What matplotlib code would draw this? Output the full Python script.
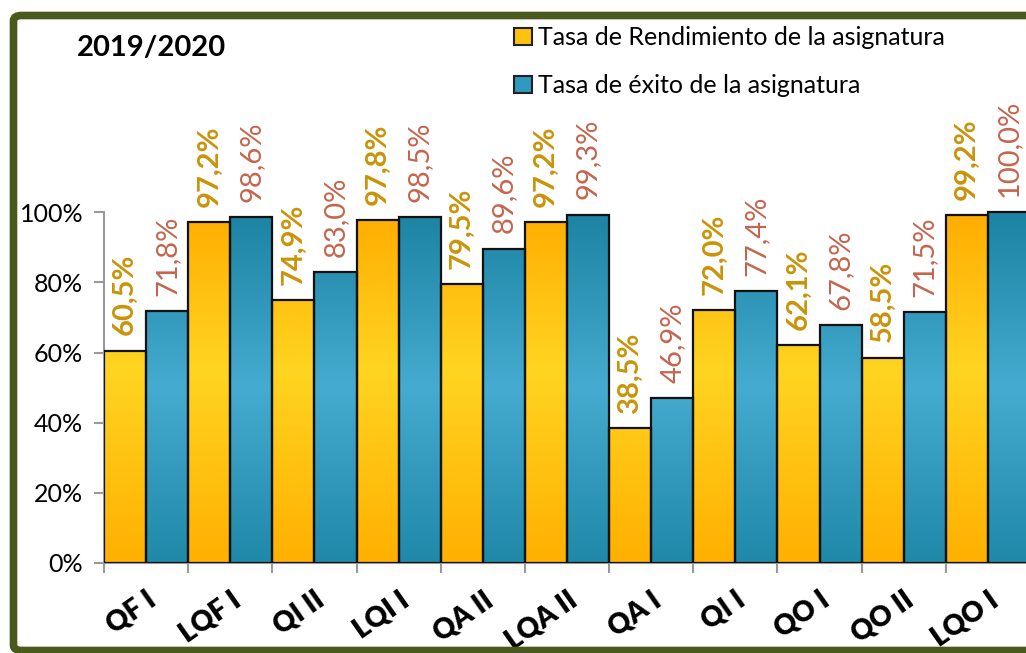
import matplotlib.pyplot as plt
import numpy as np
from matplotlib.colors import LinearSegmentedColormap
from matplotlib.patches import FancyBboxPatch, Patch

categories = ['QF I', 'LQF I', 'QI II', 'LQI I', 'QA II', 'LQA II',
              'QA I', 'QI I', 'QO I', 'QO II', 'LQO I']
rendimiento = [60.5, 97.2, 74.9, 97.8, 79.5, 97.2, 38.5, 72.0, 62.1, 58.5, 99.2]
exito = [71.8, 98.6, 83.0, 98.5, 89.6, 99.3, 46.9, 77.4, 67.8, 71.5, 100.0]
yticks = [0, 20, 40, 60, 80, 100]

plt.rcParams['font.family'] = ['Lato', 'DejaVu Sans']

W, H = 1026, 653
fig = plt.figure(figsize=(W / 100, H / 100), dpi=100)

# axes placed in pixel terms: x=0..11 spans 104..1030, y 0%..120% spans 563..142
ax = fig.add_axes([104 / W, (H - 563) / H, 926 / W, 421 / H])

x = np.arange(len(categories))
width = 0.5
bars_r = ax.bar(x - width / 2, rendimiento, width, color='#ffc20e',
                edgecolor='#111111', linewidth=1.6, zorder=2)
bars_e = ax.bar(x + width / 2, exito, width, color='#2f9abd',
                edgecolor='#111111', linewidth=1.6, zorder=2)

# gradient fills clipped to each bar
cmap_r = LinearSegmentedColormap.from_list('r', [(0, '#ffb000'), (0.55, '#ffd422'), (1, '#ffad00')])
cmap_e = LinearSegmentedColormap.from_list('e', [(0, '#2088a9'), (0.5, '#45abd0'), (1, '#1d83a3')])
grad = np.linspace(0, 1, 256).reshape(-1, 1)
for bars, cmap in ((bars_r, cmap_r), (bars_e, cmap_e)):
    for b in bars:
        x0 = b.get_x()
        im = ax.imshow(grad, cmap=cmap, origin='lower', aspect='auto',
                       extent=(x0, x0 + b.get_width(), 0, 100), zorder=2.5)
        im.set_clip_path(b)
        b.set_facecolor('none')
        b.set_zorder(3)

for b, v in zip(bars_r, rendimiento):
    ax.annotate(f'{v:.1f}%'.replace('.', ','), (b.get_x() + b.get_width() / 2, v),
                xytext=(0, 11), textcoords='offset points', rotation=90,
                ha='center', va='bottom', fontsize=21, fontweight='bold',
                color='#c99409', annotation_clip=False)
for b, v in zip(bars_e, exito):
    ax.annotate(f'{v:.1f}%'.replace('.', ','), (b.get_x() + b.get_width() / 2, v),
                xytext=(0, 11), textcoords='offset points', rotation=90,
                ha='center', va='bottom', fontsize=21,
                color='#c4654d', annotation_clip=False)

ax.set_xlim(-0.5, len(categories) - 0.5)
ax.set_ylim(0, 120)

ax.set_yticks(yticks)
ax.set_yticklabels([f'{t}%' for t in yticks], fontsize=18)
ax.set_xticks(np.arange(len(categories) + 1) - 0.5)
ax.set_xticklabels([])
ax.set_xticks(x, minor=True)
ax.set_xticklabels(categories, minor=True, rotation=35, ha='right',
                   rotation_mode='anchor', fontsize=20, fontweight='heavy')
ax.tick_params(axis='x', which='minor', length=0, pad=17)
ax.tick_params(axis='both', which='major', color='#999999', width=1.5, length=7)
ax.tick_params(axis='y', pad=8)

for s in ('top', 'right'):
    ax.spines[s].set_visible(False)
ax.spines['left'].set_bounds(0, 100)
for s in ('left', 'bottom'):
    ax.spines[s].set_color('#999999')
    ax.spines[s].set_linewidth(1.5)

fig.text(77 / W, 1 - 48 / H, '2019/2020', fontsize=21, fontweight='bold',
         va='center', ha='left')

handles = [Patch(facecolor='#ffc20e', edgecolor='#222222', linewidth=1.5),
           Patch(facecolor='#2f9abd', edgecolor='#222222', linewidth=1.5)]
fig.legend(handles, ['Tasa de Rendimiento de la asignatura', 'Tasa de éxito de la asignatura'],
           loc='upper left', bbox_to_anchor=(514 / W, 1 - 26 / H), frameon=False,
           fontsize=18, handlelength=0.7, handleheight=0.7, handletextpad=0.25,
           labelspacing=1.0, borderaxespad=0, borderpad=0)

border = FancyBboxPatch((13.5 / W, 2.5 / H), 1.1, (651 - 13.5 - 2.5) / H * 1.0,
                        boxstyle='round,pad=0,rounding_size=0.008',
                        transform=fig.transFigure, facecolor='none',
                        edgecolor='#495a1c', linewidth=5.5, zorder=10)
fig.patches.append(border)

fig.savefig('out.png', dpi=100)
